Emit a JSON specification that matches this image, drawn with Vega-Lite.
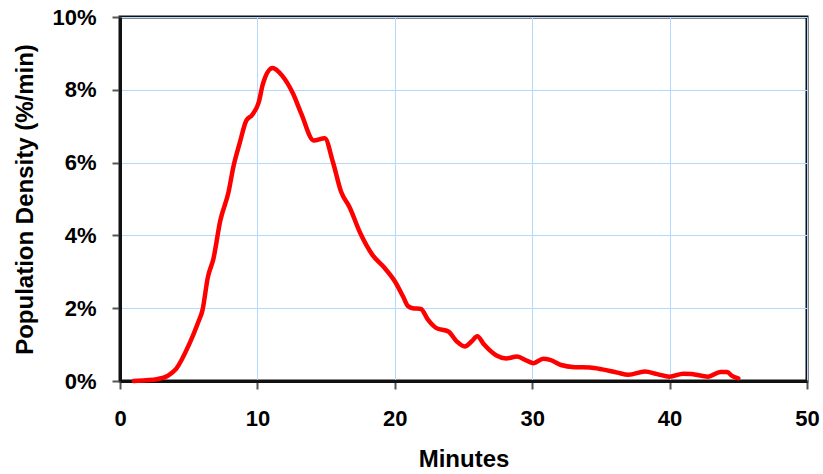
{
  "$schema": "https://vega.github.io/schema/vega-lite/v6.json",
  "width": 687,
  "height": 364,
  "autosize": {"type": "none"},
  "padding": {"left": 120, "top": 17, "right": 16, "bottom": 93},
  "background": "white",
  "config": {
    "view": {"stroke": "#111111", "strokeWidth": 3},
    "axis": {
      "labelFont": "Liberation Sans",
      "titleFont": "Liberation Sans",
      "labelFontWeight": "bold",
      "titleFontWeight": "bold",
      "labelFontSize": 22,
      "titleFontSize": 24,
      "labelColor": "black",
      "titleColor": "black",
      "gridColor": "#b3d9ff",
      "gridWidth": 1,
      "gridOpacity": 1,
      "domainColor": "#111111",
      "domainWidth": 3,
      "tickColor": "#555555",
      "tickWidth": 2,
      "tickSize": 8
    }
  },
  "data": {
    "values": [
      {"min": 1.0, "density": 0.0},
      {"min": 1.9, "density": 0.02},
      {"min": 2.7, "density": 0.05},
      {"min": 3.5, "density": 0.15},
      {"min": 4.1, "density": 0.34},
      {"min": 5.0, "density": 0.98},
      {"min": 5.7, "density": 1.62},
      {"min": 6.0, "density": 1.94},
      {"min": 6.4, "density": 2.86},
      {"min": 6.8, "density": 3.36},
      {"min": 7.3, "density": 4.41},
      {"min": 7.9, "density": 5.19},
      {"min": 8.25, "density": 5.88},
      {"min": 8.7, "density": 6.52},
      {"min": 9.2, "density": 7.16},
      {"min": 9.6, "density": 7.3},
      {"min": 10.1, "density": 7.66},
      {"min": 10.4, "density": 8.16},
      {"min": 11.1, "density": 8.6},
      {"min": 11.8, "density": 8.39},
      {"min": 12.6, "density": 7.89},
      {"min": 13.2, "density": 7.34},
      {"min": 14.1, "density": 6.61},
      {"min": 14.9, "density": 6.67},
      {"min": 15.5, "density": 6.01},
      {"min": 16.1, "density": 5.19},
      {"min": 16.7, "density": 4.78},
      {"min": 17.5, "density": 4.05},
      {"min": 18.4, "density": 3.45},
      {"min": 19.2, "density": 3.13},
      {"min": 20.0, "density": 2.74},
      {"min": 20.6, "density": 2.32},
      {"min": 20.95, "density": 2.06},
      {"min": 21.3, "density": 2.0},
      {"min": 21.9, "density": 1.98},
      {"min": 22.4, "density": 1.69},
      {"min": 23.0, "density": 1.46},
      {"min": 23.9, "density": 1.36},
      {"min": 24.5, "density": 1.09},
      {"min": 25.1, "density": 0.95},
      {"min": 25.6, "density": 1.09},
      {"min": 26.0, "density": 1.23},
      {"min": 26.5, "density": 1.0},
      {"min": 27.4, "density": 0.7},
      {"min": 28.1, "density": 0.62},
      {"min": 28.9, "density": 0.67},
      {"min": 29.6, "density": 0.56},
      {"min": 30.1, "density": 0.49},
      {"min": 30.8, "density": 0.61},
      {"min": 31.3, "density": 0.58},
      {"min": 32.1, "density": 0.44},
      {"min": 33.1, "density": 0.38},
      {"min": 34.2, "density": 0.37},
      {"min": 35.1, "density": 0.32},
      {"min": 36.2, "density": 0.23},
      {"min": 37.0, "density": 0.17},
      {"min": 38.2, "density": 0.26},
      {"min": 39.1, "density": 0.19},
      {"min": 40.0, "density": 0.12},
      {"min": 41.0, "density": 0.2},
      {"min": 41.6, "density": 0.19},
      {"min": 42.8, "density": 0.12},
      {"min": 43.7, "density": 0.25},
      {"min": 44.2, "density": 0.25},
      {"min": 44.5, "density": 0.15},
      {"min": 45.0, "density": 0.07}
    ]
  },
  "mark": {"type": "line", "color": "#ff0000", "strokeWidth": 4.5, "interpolate": "monotone", "strokeJoin": "round", "strokeCap": "round"},
  "encoding": {
    "x": {
      "field": "min",
      "type": "quantitative",
      "scale": {"domain": [0, 50], "nice": false, "zero": true},
      "axis": {
        "title": "Minutes",
        "values": [0, 10, 20, 30, 40, 50],
        "labelPadding": 19,
        "titlePadding": 18,
        "labelFlush": false
      }
    },
    "y": {
      "field": "density",
      "type": "quantitative",
      "scale": {"domain": [0, 10], "nice": false},
      "axis": {
        "title": "Population Density (%/min)",
        "values": [0, 2, 4, 6, 8, 10],
        "labelExpr": "datum.value + '%'",
        "labelPadding": 16,
        "titlePadding": 14,
        "labelFlush": false
      }
    }
  }
}
